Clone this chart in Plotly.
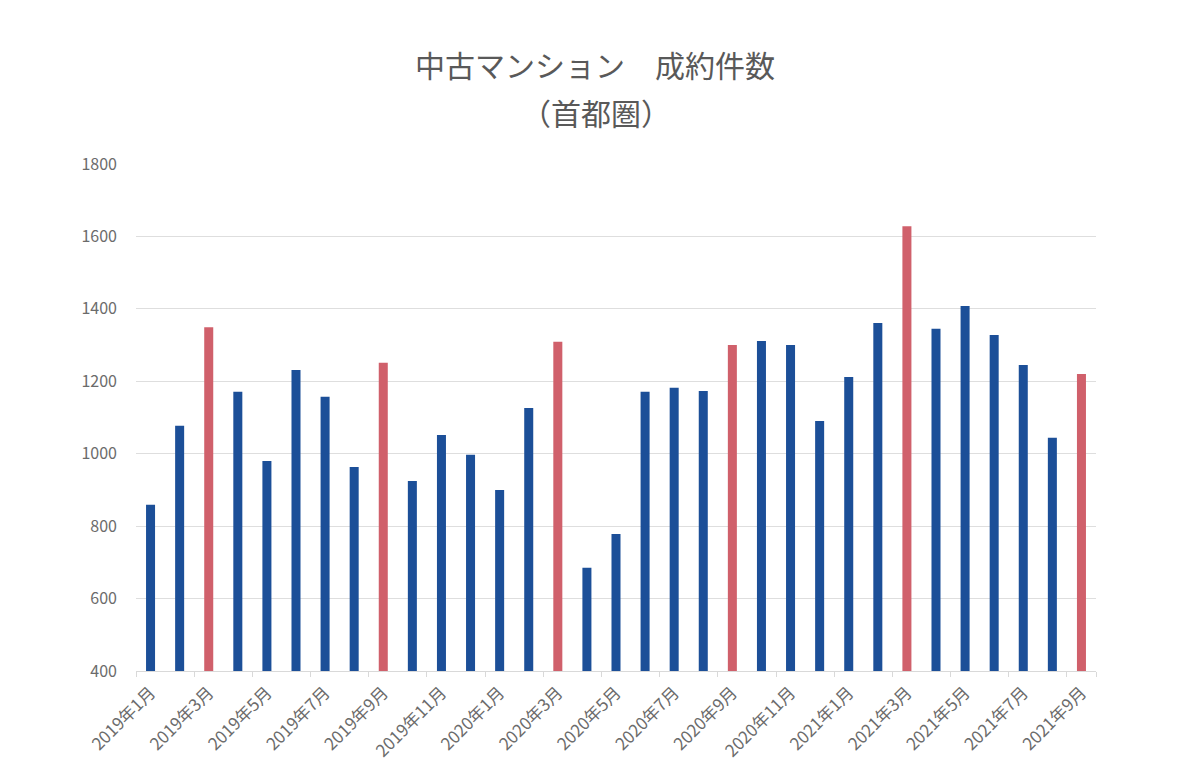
import plotly.graph_objects as go

months = [f"{y}年{m}月" for y in (2019, 2020, 2021) for m in range(1, 13)][:33]
contracts = [
    859, 1077, 1349, 1171, 980, 1231, 1157, 963, 1251, 925, 1052, 997,
    900, 1126, 1309, 685, 778, 1171, 1182, 1173, 1300, 1311, 1300, 1090,
    1212, 1361, 1628, 1345, 1408, 1328, 1245, 1044, 1220,
]
highlight_months = ("年3月", "年9月")

BLUE = "#1c4f98"
RED = "#d0606b"
colors = [RED if m.endswith(highlight_months) else BLUE for m in months]

fig = go.Figure(go.Bar(x=months, y=contracts, marker_color=colors, marker_line_width=0))

# the page body adds an 8px offset, so margins are set 8px smaller on left/top
fig.update_layout(
    width=1200,
    height=778,
    paper_bgcolor="white",
    plot_bgcolor="white",
    font=dict(family="Noto Sans CJK JP", color="#595959"),
    title=dict(
        text="中古マンション　成約件数",
        x=(595 - 8) / 1200,
        xanchor="center",
        yref="container",
        y=1 - (66 - 8) / 778,
        yanchor="middle",
        font=dict(size=30, color="#595959"),
    ),
    margin=dict(l=128, r=112, t=156, b=115),
    bargap=0.69,
    showlegend=False,
)

# second title line, spaced wider than plotly's default line height
fig.add_annotation(
    text="（首都圏）",
    xref="paper", yref="paper",
    x=(596 - 136) / 960, y=1 + (164 - 112) / 507,
    xanchor="center", yanchor="middle",
    showarrow=False,
    font=dict(size=30, color="#595959"),
)

fig.update_xaxes(
    type="category",
    tickmode="array",
    tickvals=months[::2],
    ticktext=months[::2],
    tickangle=-45,
    tickfont=dict(size=17, color="#6b6b6b"),
    tickson="boundaries",
    ticks="outside",
    ticklen=5,
    tickcolor="#d9d9d9",
    showline=True,
    linecolor="#d9d9d9",
    showgrid=False,
    ticklabelstandoff=4,
    automargin=False,
)
fig.update_yaxes(
    range=[400, 1800],
    dtick=200,
    tickfont=dict(size=16, color="#6b6b6b"),
    showgrid=True,
    gridcolor="#dedede",
    zeroline=False,
    ticks="",
    ticklabelstandoff=18,
    automargin=False,
)

fig.write_html("out.html")
